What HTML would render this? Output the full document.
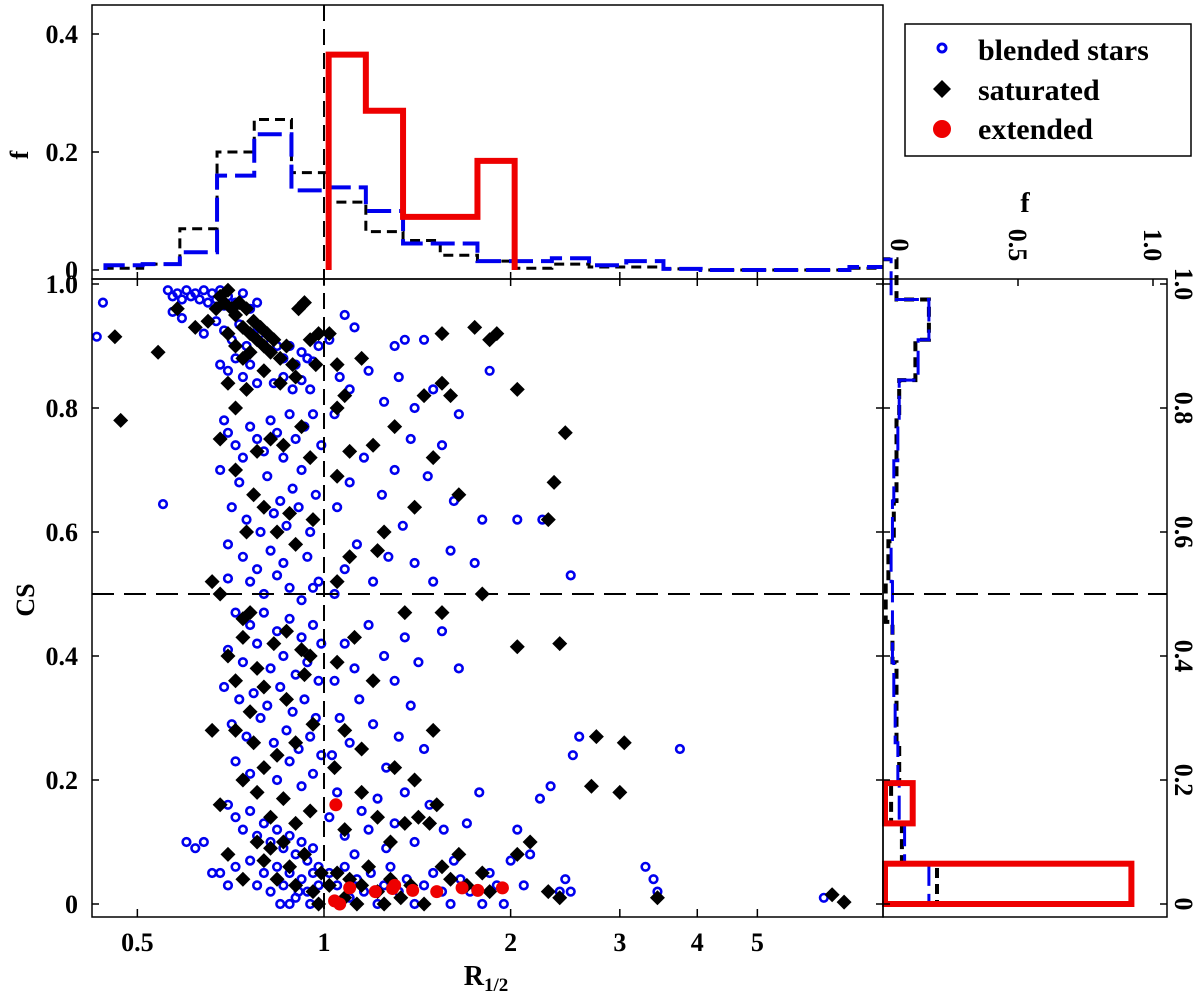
<!DOCTYPE html>
<html><head><meta charset="utf-8"><style>
html,body{margin:0;padding:0;background:#fff;overflow:hidden;width:1200px;height:994px;}
svg{display:block;font-family:"Liberation Serif",serif;font-weight:bold;}
</style></head><body>
<svg id="chart" width="1200" height="994" viewBox="0 0 1200 994" xmlns="http://www.w3.org/2000/svg">
<g id="marks"></g>
<g id="frames">
<rect x="92" y="5" width="791" height="274" fill="none" stroke="#000" stroke-width="1.5"/>
<rect x="92" y="279" width="791" height="638" fill="none" stroke="#000" stroke-width="1.5"/>
<rect x="883" y="279" width="284" height="638" fill="none" stroke="#000" stroke-width="1.5"/>
</g>
<text x="28" y="155" font-size="26" text-anchor="middle" transform="rotate(-90 28 155)">f</text>
<text x="34" y="600" font-size="26" text-anchor="middle" transform="rotate(-90 34 600)">CS</text>
<text x="486" y="985" font-size="28" text-anchor="middle">R<tspan font-size="19" dy="6">1/2</tspan></text>
<text x="1025" y="212" font-size="28" text-anchor="middle">f</text>
<g>
<rect x="905" y="24" width="286" height="132" fill="#fff" stroke="#000" stroke-width="1.5"/>
<circle cx="942" cy="48" r="4" fill="none" stroke="#0000ee" stroke-width="3"/>
<text x="978" y="60" font-size="30">blended stars</text>
<path d="M942 80 L951 89 L942 98 L933 89 Z" fill="#000"/>
<text x="978" y="100" font-size="30">saturated</text>
<circle cx="942" cy="129" r="9" fill="#ee0000"/>
<text x="978" y="139" font-size="30">extended</text>
</g>
</svg>
<script>
// ---- data ----
const topEdgeStart = -0.3525, topBinW = 0.06;
const topBlue  = [0.008,0.01,0.03,0.16,0.23,0.135,0.14,0.1,0.045,0.045,0.015,0.015,0.02,0.008,0.015,0.002,0,0,0,0,0.005,0.005];
const topBlack = [0.003,0.01,0.07,0.2,0.255,0.165,0.115,0.065,0.05,0.025,0.015,0.003,0.01,0.005,0.005,0.002,0,0,0,0,0.003,0.003];
const topRed   = [0,0,0,0,0,0,0.365,0.27,0.09,0.09,0.185,0,0,0,0,0,0,0,0,0,0,0];
const rightBinW = 0.065;
const rightBlue  = [0.17,0.08,0.06,0.055,0.045,0.04,0.035,0.035,0.03,0.035,0.04,0.055,0.06,0.13,0.17,0.03];
const rightBlack = [0.2,0.07,0.03,0.06,0.05,0.05,0.035,0.01,0.02,0.04,0.05,0.05,0.06,0.12,0.17,0.05];
const rightRed   = [0.92,0,0.11,0,0,0,0,0,0,0,0,0,0,0,0,0];
const xTickLabels = ["0.5","1","2","3","4","5"];
const xTickValues = [0.5,1,2,3,4,5];
const yTickLabels = ["0","0.2","0.4","0.6","0.8","1.0"];
const yTickValues = [0,0.2,0.4,0.6,0.8,1.0];
const fTickLabels = ["0","0.2","0.4"];
const fTickValues = [0,0.2,0.4];
const fRTickLabels = ["0","0.5","1.0"];
const fRTickValues = [0,0.5,1.0];
const blueR = [0.44,0.43,0.55,0.56,0.57,0.58,0.59,0.60,0.61,0.62,0.63,0.64,0.65,0.66,0.67,0.68,0.69,0.70,0.72,0.74,0.76,0.78,0.57,0.59,0.62,0.64,0.67,0.69,0.71,0.73,0.75,0.77,0.80,0.82,0.84,0.86,0.88,0.9,0.92,0.94,0.96,0.98,0.68,0.70,0.72,0.74,0.76,0.78,0.80,0.83,0.86,0.89,0.92,0.95,
0.69,0.70,0.72,0.74,0.76,0.78,0.80,0.82,0.84,0.86,0.88,0.90,0.93,0.96,0.99,0.68,0.73,0.77,0.81,0.85,0.89,0.92,0.97,0.71,0.75,0.79,0.83,0.87,0.91,0.95,0.70,0.74,0.78,0.82,0.86,0.90,0.94,0.98,0.70,0.76,0.80,0.84,0.88,0.92,0.96,0.72,0.76,0.80,0.84,0.88,0.92,0.96,0.99,0.70,0.74,0.78,0.82,0.86,0.90,0.94,0.98,0.69,0.73,0.77,0.81,0.85,0.89,0.93,0.97,0.71,0.75,0.79,0.83,0.87,0.91,0.95,0.99,0.72,0.76,0.80,0.84,0.88,0.92,0.96,
0.60,0.62,0.64,0.66,0.68,0.70,0.72,0.74,0.76,0.78,0.80,0.82,0.84,0.86,0.88,0.90,0.92,0.94,0.96,0.98,0.70,0.72,0.74,0.76,0.78,0.80,0.82,0.84,0.86,0.88,0.90,0.92,0.94,0.96,0.98,0.85,0.88,0.91,0.95,
1.02,1.05,1.08,1.1,1.13,1.16,1.19,1.22,1.25,1.28,1.32,1.36,1.4,1.45,1.5,1.55,1.6,1.66,1.72,1.8,1.9,1.95,2.1,2.3,2.5,2.15,2.0,1.85,2.05,3.3,3.4,3.45,6.4,
1.02,1.05,1.08,1.12,1.15,1.18,1.22,1.26,1.3,1.35,1.4,1.48,1.56,1.62,1.7,1.78,1.03,1.06,1.1,1.14,1.2,1.26,1.32,1.38,1.45,1.04,1.08,1.12,1.18,1.25,1.3,1.35,1.42,1.55,1.65,1.04,1.08,1.13,1.2,1.27,1.34,1.4,1.5,1.6,1.75,1.05,1.1,1.16,1.24,1.3,1.38,1.47,1.55,1.62,1.8,2.05,1.04,1.1,1.18,1.25,1.32,1.4,1.5,1.65,1.85,1.3,1.35,1.45,1.08,1.12,1.02,1.06,2.5,2.25,
2.58,2.52,2.32,2.23,3.75,2.4,2.45];
const blueCS = [0.97,0.915,0.645,0.99,0.98,0.985,0.975,0.99,0.98,0.985,0.975,0.99,0.97,0.985,0.975,0.99,0.965,0.98,0.97,0.985,0.96,0.97,0.955,0.945,0.93,0.92,0.94,0.925,0.91,0.935,0.9,0.92,0.91,0.89,0.9,0.88,0.9,0.87,0.89,0.88,0.875,0.9,0.87,0.86,0.88,0.85,0.87,0.84,0.86,0.84,0.85,0.83,0.845,0.83,
0.78,0.76,0.74,0.72,0.77,0.75,0.73,0.78,0.76,0.72,0.79,0.75,0.77,0.79,0.74,0.70,0.68,0.66,0.69,0.65,0.67,0.70,0.66,0.64,0.62,0.60,0.63,0.61,0.64,0.60,0.58,0.56,0.54,0.57,0.55,0.58,0.56,0.52,0.525,0.52,0.50,0.53,0.51,0.49,0.51,0.47,0.45,0.47,0.44,0.46,0.43,0.45,0.42,0.41,0.39,0.42,0.38,0.40,0.37,0.39,0.36,0.35,0.33,0.34,0.32,0.35,0.31,0.33,0.30,0.29,0.27,0.30,0.26,0.28,0.25,0.27,0.24,0.23,0.21,0.22,0.20,0.23,0.19,0.21,
0.10,0.09,0.10,0.05,0.05,0.16,0.14,0.12,0.15,0.11,0.13,0.10,0.12,0.09,0.11,0.08,0.10,0.07,0.09,0.06,0.03,0.06,0.04,0.07,0.03,0.05,0.02,0.06,0.03,0.05,0.01,0.04,0.02,0.05,0.03,0.0,0.0,0.02,0.0,
0.05,0.03,0.06,0.01,0.04,0.02,0.05,0.0,0.03,0.06,0.02,0.04,0.0,0.03,0.05,0.02,0.0,0.04,0.02,0.0,0.03,0.0,0.03,0.02,0.02,0.08,0.07,0.05,0.12,0.06,0.04,0.02,0.01,
0.14,0.18,0.11,0.08,0.15,0.12,0.17,0.09,0.13,0.18,0.10,0.16,0.12,0.07,0.13,0.18,0.24,0.30,0.26,0.33,0.29,0.22,0.27,0.32,0.25,0.36,0.42,0.38,0.45,0.40,0.36,0.43,0.39,0.44,0.38,0.50,0.54,0.58,0.52,0.56,0.61,0.55,0.52,0.57,0.55,0.64,0.68,0.72,0.66,0.70,0.75,0.69,0.74,0.65,0.62,0.62,0.79,0.83,0.86,0.81,0.85,0.80,0.83,0.79,0.86,0.90,0.91,0.91,0.95,0.93,0.91,0.85,0.53,0.62,
0.27,0.24,0.19,0.17,0.25,0.02,0.04];
const blackR = [0.47,0.46,0.54,0.58,0.62,0.65,0.67,0.68,0.69,0.70,0.71,0.72,0.73,0.74,0.75,0.76,0.77,0.78,0.79,0.80,0.81,0.82,0.83,0.85,0.87,0.89,0.91,0.93,0.95,0.98,0.7,0.72,0.74,0.76,0.7,0.75,0.8,0.85,0.9,0.97,0.72,0.78,0.82,0.86,0.92,0.95,0.68,0.72,0.77,0.8,0.84,0.88,0.9,0.96,0.75,0.66,0.68,0.74,0.76,0.7,0.74,0.78,0.83,0.87,0.92,0.95,0.72,0.76,0.8,0.87,0.93,0.66,0.72,0.77,0.8,0.84,0.9,0.96,0.68,0.74,0.78,0.82,0.86,0.9,0.95,0.7,0.74,0.78,0.8,0.82,0.84,0.86,0.88,0.9,0.93,0.96,0.99,0.98,
1.02,1.05,1.08,1.1,1.13,1.15,1.18,1.22,1.25,1.28,1.33,1.38,1.45,1.55,1.6,1.65,1.7,1.85,2.15,2.3,2.4,2.05,1.08,1.15,1.22,1.28,1.35,1.42,1.48,1.52,1.8,2.7,3.0,2.75,3.05,1.04,1.08,1.15,1.3,1.4,1.5,1.05,1.12,1.2,1.35,1.55,2.05,2.4,1.05,1.1,1.22,1.25,1.4,1.65,1.8,1.05,1.1,1.2,1.3,1.5,1.08,1.05,1.15,1.45,1.55,1.55,1.75,1.85,1.9,2.05,1.6,2.3,2.35,2.45,6.6,6.9,3.45,1.02,1.05];
const blackCS = [0.78,0.915,0.89,0.96,0.93,0.94,0.96,0.98,0.97,0.99,0.96,0.95,0.97,0.93,0.96,0.92,0.94,0.91,0.93,0.90,0.92,0.89,0.91,0.88,0.9,0.87,0.96,0.97,0.91,0.92,0.92,0.9,0.88,0.89,0.84,0.83,0.86,0.84,0.85,0.87,0.8,0.73,0.75,0.74,0.77,0.72,0.75,0.7,0.66,0.64,0.6,0.63,0.58,0.62,0.6,0.52,0.5,0.46,0.47,0.4,0.43,0.38,0.42,0.44,0.41,0.4,0.36,0.31,0.35,0.33,0.37,0.28,0.28,0.26,0.22,0.24,0.26,0.29,0.16,0.2,0.18,0.14,0.17,0.13,0.15,0.08,0.04,0.1,0.07,0.09,0.04,0.1,0.06,0.03,0.08,0.02,0.05,0.0,
0.03,0.05,0.01,0.04,0.0,0.03,0.06,0.02,0.0,0.04,0.01,0.03,0.0,0.06,0.04,0.08,0.03,0.02,0.1,0.02,0.01,0.08,0.12,0.18,0.14,0.1,0.13,0.14,0.13,0.16,0.05,0.19,0.18,0.27,0.26,0.22,0.28,0.25,0.22,0.2,0.28,0.39,0.43,0.36,0.47,0.47,0.415,0.42,0.52,0.56,0.57,0.6,0.64,0.66,0.5,0.69,0.73,0.74,0.77,0.72,0.82,0.8,0.88,0.82,0.84,0.92,0.93,0.91,0.92,0.83,0.82,0.62,0.68,0.76,0.015,0.003,0.01,0.92,0.87];
const redR  = [1.04,1.06,1.045,1.10,1.21,1.29,1.30,1.39,1.52,1.67,1.77,1.94];
const redCS = [0.005,0.0,0.16,0.026,0.02,0.025,0.03,0.022,0.02,0.026,0.022,0.026];

// ---- scales ----
const X = r => 324 + 620*Math.log10(r);
const XL = l => 324 + 620*l;
const Y = c => 904 - 620*c;
const FT = f => 270 - 590*f;
const FR = f => 883 + 270*f;
const NS = "http://www.w3.org/2000/svg";
const marks = document.getElementById('marks');
const svg = document.getElementById('chart');
function mk(tag, attrs, parent){
  const e = document.createElementNS(NS, tag);
  for (const k in attrs) e.setAttribute(k, attrs[k]);
  (parent||marks).appendChild(e);
  return e;
}
const defs = mk('defs',{},svg);
const cp = mk('clipPath',{id:'clipS'},defs);
mk('rect',{x:92,y:279,width:791,height:638},cp);
const cpt = mk('clipPath',{id:'clipT'},defs);
mk('rect',{x:92,y:5,width:791,height:274},cpt);

// top hist
function topPath(vals){
  let d = 'M'+XL(topEdgeStart)+' '+FT(0);
  vals.forEach((v,i)=>{
    const x0 = XL(topEdgeStart+i*topBinW), x1 = XL(topEdgeStart+(i+1)*topBinW);
    d += ' L'+x0+' '+FT(v)+' L'+x1+' '+FT(v);
  });
  d += ' L'+XL(topEdgeStart+vals.length*topBinW)+' '+FT(0);
  return d;
}
const gTop = mk('g',{'clip-path':'url(#clipT)'});


let p;
p = mk('path',{d:topPath(topBlack),fill:'none',stroke:'#000','stroke-width':3,'stroke-dasharray':'10 6'},gTop);


p = mk('path',{d:topPath(topBlue),fill:'none',stroke:'#0000ee','stroke-width':4,'stroke-dasharray':'24 8'},gTop);


(function(){
  let first = topRed.findIndex(v=>v>0), last = topRed.length-1-[...topRed].reverse().findIndex(v=>v>0);
  let d = 'M'+XL(topEdgeStart+first*topBinW)+' '+FT(0);
  for (let i=first;i<=last;i++){
    d += ' L'+XL(topEdgeStart+i*topBinW)+' '+FT(topRed[i])+' L'+XL(topEdgeStart+(i+1)*topBinW)+' '+FT(topRed[i]);
  }
  d += ' L'+XL(topEdgeStart+(last+1)*topBinW)+' '+FT(0);
  p = mk('path',{d:d,fill:'none',stroke:'#ee0000','stroke-width':6},gTop);
  
  
})();

// right hist
function rightPath(vals){
  let d = 'M'+FR(0)+' '+Y(0);
  vals.forEach((v,i)=>{
    d += ' L'+FR(v)+' '+Y(i*rightBinW)+' L'+FR(v)+' '+Y((i+1)*rightBinW);
  });
  d += ' L'+FR(0)+' '+Y(vals.length*rightBinW);
  return d;
}
const gR = mk('g',{});


p = mk('path',{d:rightPath(rightBlack),fill:'none',stroke:'#000','stroke-width':4,'stroke-dasharray':'10 6'},gR);


p = mk('path',{d:rightPath(rightBlue),fill:'none',stroke:'#0000ee','stroke-width':3,'stroke-dasharray':'24 8'},gR);


rightRed.forEach((v,i)=>{
  if (v<=0) return;
  const r = mk('rect',{x:FR(0)+2,y:Y((i+1)*rightBinW),width:FR(v)-FR(0)-2,height:Y(i*rightBinW)-Y((i+1)*rightBinW),fill:'none',stroke:'#ee0000','stroke-width':6},gR);
  
  
});

// scatter
const gS = mk('g',{'clip-path':'url(#clipS)'});


blueR.forEach((r,i)=>{
  const c = mk('circle',{cx:X(r),cy:Y(blueCS[i]),r:3.8,fill:'none',stroke:'#0000ee','stroke-width':2.6},gS);
  
  
});
blackR.forEach((r,i)=>{
  const x = X(r), y = Y(blackCS[i]), s = 7.5;
  const c = mk('path',{d:`M${x} ${y-s} L${x+s} ${y} L${x} ${y+s} L${x-s} ${y} Z`,fill:'#000'},gS);
  
  
});
redR.forEach((r,i)=>{
  const c = mk('circle',{cx:X(r),cy:Y(redCS[i]),r:6.5,fill:'#ee0000'},gS);
  
  
});

// reference lines
p = mk('line',{x1:X(1),y1:5,x2:X(1),y2:917,stroke:'#000','stroke-width':2,'stroke-dasharray':'16 8'});


p = mk('line',{x1:92,y1:Y(0.5),x2:1167,y2:Y(0.5),stroke:'#000','stroke-width':2,'stroke-dasharray':'22 10'});



// ticks & labels
const gA = mk('g',{},svg);


xTickValues.forEach((v,i)=>{
  const x = X(v);
  mk('line',{x1:x,y1:917,x2:x,y2:909,stroke:'#000','stroke-width':1.5},gA);
  mk('line',{x1:x,y1:279,x2:x,y2:286,stroke:'#000','stroke-width':1.5},gA);
  mk('line',{x1:x,y1:279,x2:x,y2:272,stroke:'#000','stroke-width':1.5},gA);
  const t = mk('text',{x:x,y:951,'font-size':26,'text-anchor':'middle'},gA);
  t.textContent = xTickLabels[i];
  
  
});
yTickValues.forEach((v,i)=>{
  const y = Y(v);
  mk('line',{x1:92,y1:y,x2:99,y2:y,stroke:'#000','stroke-width':1.5},gA);
  mk('line',{x1:883,y1:y,x2:876,y2:y,stroke:'#000','stroke-width':1.5},gA);
  mk('line',{x1:883,y1:y,x2:890,y2:y,stroke:'#000','stroke-width':1.5},gA);
  mk('line',{x1:1167,y1:y,x2:1160,y2:y,stroke:'#000','stroke-width':1.5},gA);
  const t = mk('text',{x:78,y:y+9,'font-size':26,'text-anchor':'end'},gA);
  t.textContent = yTickLabels[i];
  
  
  const t2 = mk('text',{x:1175,y:y,'font-size':26,'text-anchor':'middle',transform:`rotate(90 1175 ${y})`},gA);
  t2.textContent = yTickLabels[i];
  
  
});
fTickValues.forEach((v,i)=>{
  const y = FT(v);
  mk('line',{x1:92,y1:y,x2:99,y2:y,stroke:'#000','stroke-width':1.5},gA);
  const t = mk('text',{x:78,y:y+9,'font-size':26,'text-anchor':'end'},gA);
  t.textContent = fTickLabels[i];
  
  
});
fRTickValues.forEach((v,i)=>{
  const x = FR(v);
  mk('line',{x1:x,y1:279,x2:x,y2:286,stroke:'#000','stroke-width':1.5},gA);
  const tx = x + (i===0?17:0) - 9;
  const t = mk('text',{x:tx,y:245,'font-size':26,'text-anchor':'middle',transform:`rotate(90 ${tx} 245)`},gA);
  t.textContent = fRTickLabels[i];
  
  
});
</script>
</body></html>
